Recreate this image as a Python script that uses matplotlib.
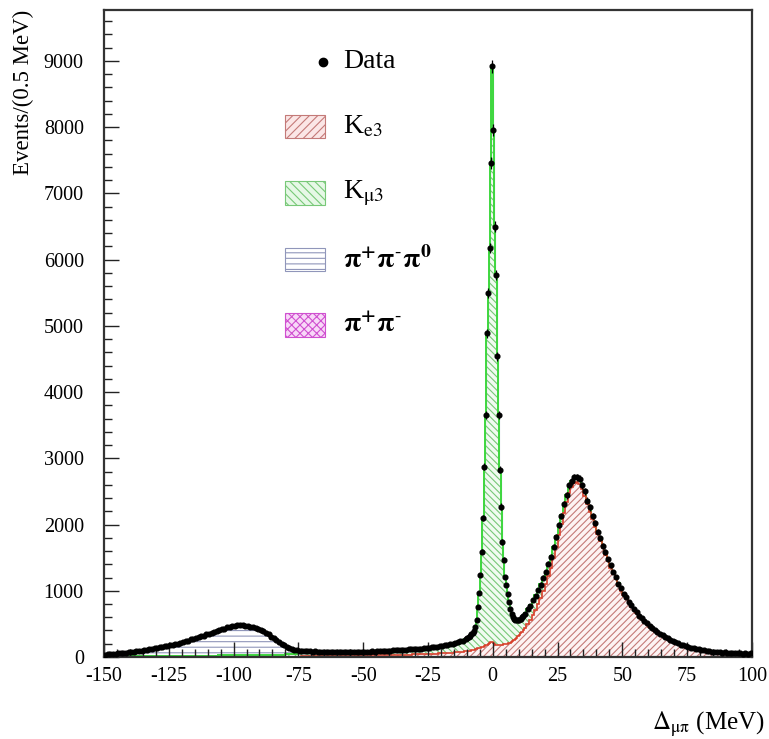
import numpy as np
import matplotlib
matplotlib.use('Agg')
import matplotlib.pyplot as plt
from matplotlib.patches import Rectangle
from matplotlib.ticker import MultipleLocator

plt.rcParams['font.family'] = 'serif'
plt.rcParams['font.serif'] = ['Liberation Serif', 'DejaVu Serif']
plt.rcParams['mathtext.fontset'] = 'stix'
plt.rcParams['hatch.linewidth'] = 0.8
plt.rcParams['axes.unicode_minus'] = False

# ── Binning: 1 MeV outside the K_mu3 peak, 0.5 MeV around it ─────────────────
edges = np.concatenate([np.arange(-150, -10, 1.0),
                        np.arange(-10, 12, 0.5),
                        np.arange(12, 100.5, 1.0)])
centers = 0.5 * (edges[:-1] + edges[1:])

# ── Data (events / bin), three segments ──────────────────────────────────────
data_a = [32, 38, 40, 46, 49, 55, 57, 63, 66, 73,
          75, 82, 85, 92, 95, 103, 106, 116, 119, 130,
          133, 144, 148, 160, 164, 178, 182, 196, 202, 218,
          223, 241, 247, 265, 272, 291, 297, 317, 323, 343,
          349, 368, 375, 395, 402, 421, 427, 446, 451, 468,
          471, 484, 479, 484, 472, 474, 458, 456, 436, 429,
          404, 392, 361, 344, 308, 288, 252, 232, 198, 181,
          153, 141, 119, 112, 99, 97, 88, 89, 83, 85,
          80, 83, 78, 82, 77, 81, 76, 80, 75, 79,
          74, 78, 74, 77, 73, 77, 74, 78, 75, 79,
          76, 81, 78, 84, 82, 88, 86, 92, 90, 96,
          94, 100, 98, 104, 103, 109, 108, 115, 114, 121,
          120, 127, 127, 135, 135, 143, 144, 153, 155, 165,
          168, 179, 183, 195, 200, 214, 221, 238, 248, 268]
data_b = [285, 300, 318, 340, 365, 395, 450, 560, 760, 970,
          1240, 1590, 2100, 2870, 3660, 4890, 5500, 6180, 7460, 8920,
          7960, 6500, 5770, 4540, 3660, 2830, 2270, 1740, 1470, 1210,
          1090, 950, 830, 720, 650, 600, 575, 560, 555, 558,
          565, 580, 600, 625]
data_c = [655, 726, 775, 856, 925, 1016, 1094, 1197, 1284, 1407,
          1512, 1668, 1812, 1989, 2131, 2309, 2442, 2590, 2652, 2718,
          2712, 2689, 2592, 2499, 2362, 2258, 2122, 2018, 1893, 1797,
          1674, 1586, 1474, 1386, 1284, 1206, 1104, 1036, 955, 905,
          835, 785, 726, 684, 626, 594, 546, 514, 472, 443,
          407, 383, 347, 328, 297, 281, 255, 243, 220, 208,
          188, 178, 161, 153, 138, 132, 119, 115, 104, 101,
          91, 90, 81, 81, 73, 74, 67, 68, 62, 64,
          58, 60, 55, 57, 52, 55, 50, 53]

# ── MC: K_e3 ─────────────────────────────────────────────────────────────────
ke3_a = [0] * 70 + [
    2, 3, 4, 5, 6, 7, 8, 9, 10, 11,
    12, 13, 14, 15, 16, 16, 17, 18, 19, 19,
    20, 20, 21, 21, 21, 22, 22, 22, 23, 23,
    23, 24, 24, 25, 25, 26, 26, 27, 27, 28,
    29, 30, 31, 32, 33, 34, 35, 36, 37, 38,
    39, 40, 42, 43, 45, 46, 48, 50, 52, 54,
    56, 58, 61, 63, 66, 69, 72, 76, 80, 85]
ke3_b = [88, 92, 96, 100, 105, 110, 116, 122, 128, 135,
         142, 150, 158, 167, 176, 186, 198, 212, 226, 232,
         215, 195, 182, 178, 178, 180, 183, 186, 190, 194,
         198, 203, 208, 215, 225, 238, 254, 272, 292, 313,
         335, 358, 382, 406]
ke3_c = [438, 498, 560, 632, 715, 800, 895, 992, 1100, 1218,
         1348, 1498, 1668, 1838, 2008, 2178, 2337, 2476, 2564, 2622,
         2639, 2605, 2531, 2426, 2311, 2195, 2079, 1962, 1855, 1748,
         1640, 1542, 1444, 1346, 1258, 1170, 1081, 1002, 933, 874,
         815, 756, 707, 658, 609, 570, 531, 492, 458, 424,
         395, 365, 336, 311, 287, 265, 246, 228, 211, 195,
         180, 166, 153, 142, 131, 121, 113, 105, 98, 92,
         86, 81, 76, 73, 69, 66, 63, 61, 59, 57,
         55, 53, 52, 51, 50, 49, 48, 47]

# ── MC: K_mu3 ────────────────────────────────────────────────────────────────
kmu3_a = [8, 8, 9, 9, 9, 10, 10, 10, 11, 11,
          11, 12, 12, 12, 13, 13, 13, 14, 14, 14,
          15, 15, 15, 16, 16, 16, 17, 17, 17, 18,
          18, 18, 19, 19, 19, 20, 20, 20, 21, 21,
          21, 22, 22, 22, 23, 23, 23, 24, 24, 24,
          25, 25, 25, 26, 26, 26, 27, 27, 27, 28,
          28, 29, 29, 30, 30, 31, 32, 33, 34, 35,
          36, 38, 40, 42, 44, 46, 48, 50, 51, 52,
          53, 53, 54, 54, 54, 55, 55, 55, 55, 55,
          55, 55, 55, 55, 55, 55, 55, 55, 56, 56,
          57, 57, 58, 59, 60, 61, 62, 63, 64, 65,
          66, 67, 68, 69, 71, 72, 74, 76, 78, 80,
          82, 84, 86, 89, 92, 95, 98, 101, 105, 109,
          114, 119, 124, 130, 136, 143, 151, 160, 170, 181]
kmu3_b = [197, 208, 222, 240, 260, 285, 334, 438, 632, 835,
          1098, 1440, 1942, 2703, 3484, 4704, 5302, 5968, 7234, 8688,
          7745, 6305, 5588, 4362, 3482, 2650, 2087, 1554, 1280, 1016,
          892, 747, 622, 505, 425, 362, 321, 288, 263, 245,
          230, 222, 218, 219]
kmu3_c = [222, 222, 220, 218, 215, 210, 205, 198, 190, 182,
          172, 162, 152, 142, 132, 122, 113, 104, 96, 88,
          81, 75, 69, 64, 59, 55, 51, 48, 45, 42,
          40, 38, 36, 34, 32, 30, 29, 28, 27, 26,
          25, 24, 23, 22, 21, 20, 19, 18, 17, 16,
          15, 15, 14, 14, 13, 13, 12, 12, 11, 11,
          10, 10, 10, 9, 9, 9, 8, 8, 8, 7,
          7, 7, 7, 6, 6, 6, 6, 5, 5, 5,
          5, 5, 5, 4, 4, 4, 4, 4]

# ── MC: pi+ pi- pi0 ──────────────────────────────────────────────────────────
pi3_a = [24, 28, 32, 35, 41, 43, 48, 52, 57, 61,
         65, 68, 74, 78, 83, 89, 95, 100, 107, 114,
         120, 127, 135, 142, 150, 159, 167, 177, 187, 197,
         208, 220, 231, 243, 256, 268, 280, 294, 305, 319,
         331, 343, 356, 370, 382, 395, 407, 418, 431, 441,
         449, 455, 457, 454, 450, 444, 435, 425, 413, 397,
         380, 359, 336, 310, 282, 253, 224, 195, 168, 143,
         118, 97, 78, 63, 51, 42, 34, 28, 24, 20,
         17, 15, 12, 10, 9, 8, 6, 5, 3, 3] + [0] * 50
pi3_b = [0] * 44
pi3_c = [0] * 88

# ── MC: pi+ pi- (negligible here) ────────────────────────────────────────────
pipi_a = [0] * 140
pipi_b = [0] * 44
pipi_c = [0] * 88

data = np.array(data_a + data_b + data_c, dtype=float)
ke3 = np.array(ke3_a + ke3_b + ke3_c, dtype=float)
kmu3 = np.array(kmu3_a + kmu3_b + kmu3_c, dtype=float)
pi3 = np.array(pi3_a + pi3_b + pi3_c, dtype=float)
pipi = np.array(pipi_a + pipi_b + pipi_c, dtype=float)

s1 = ke3
s2 = s1 + kmu3
s3 = s2 + pi3
s4 = s3 + pipi

RED, RED_H = '#d8402c', '#c47a78'
GRN, GRN_H = '#3ed83e', '#78c878'
BLU_H = '#9096ba'
MAG_H = '#d050d0'

fig = plt.figure(figsize=(7.69, 7.39), dpi=100)
ax = fig.add_axes([0.1352, 0.111, 0.8426, 0.8755])

# stacked MC, hatched
ax.stairs(s4, edges, baseline=s3, fill=True, facecolor='none', edgecolor=MAG_H,
          hatch='xxxx', linewidth=0)
ax.stairs(s3, edges, baseline=s2, fill=True, facecolor='none', edgecolor=BLU_H,
          hatch='---', linewidth=0)
ax.stairs(s2, edges, baseline=s1, fill=True, facecolor='#f1fbf1', edgecolor=GRN_H,
          hatch='\\\\\\\\\\', linewidth=0)
ax.stairs(s1, edges, baseline=0, fill=True, facecolor='#fdf3f3', edgecolor=RED_H,
          hatch='/////', linewidth=0)
ax.stairs(s3, edges, baseline=None, color=BLU_H, linewidth=0.8)
ax.stairs(s2, edges, baseline=None, color=GRN, linewidth=1.4)
ax.stairs(s1, edges, baseline=None, color=RED, linewidth=1.2)

# data
ax.errorbar(centers, data, yerr=np.sqrt(data), fmt='o', ms=3.4, color='black',
            elinewidth=0.9, capsize=0, zorder=5)

ax.set_xlim(-150, 100)
ax.set_ylim(0, 9770)
ax.xaxis.set_major_locator(MultipleLocator(25))
ax.xaxis.set_minor_locator(MultipleLocator(5))
ax.yaxis.set_major_locator(MultipleLocator(1000))
ax.yaxis.set_minor_locator(MultipleLocator(200))
ax.tick_params(which='both', direction='in', top=False, right=False,
               labelsize=14.5, width=1.0, color='#222222')
ax.tick_params(which='major', length=11)
ax.tick_params(which='minor', length=6)
ax.tick_params(axis='x', which='major', pad=7)
ax.tick_params(axis='y', which='major', pad=14.5)
for sp in ax.spines.values():
    sp.set_linewidth(1.6)
    sp.set_color('#333333')

ax.set_ylabel('Events/(0.5 MeV)', fontsize=16.5, loc='top')
ax.yaxis.set_label_coords(-0.108, 1.0)
ax.set_xlabel(r'$\Delta_{\mathrm{\mu\pi}}$ (MeV)', fontsize=18, loc='right')
ax.xaxis.set_label_coords(1.02, -0.082)

# legend drawn by hand to match the layout
hx, hw, hh = 0.279, 0.062, 0.036
tx = 0.369
ax.plot([0.338], [0.920], 'o', color='black', ms=6, transform=ax.transAxes)
ax.text(tx, 0.920, 'Data', transform=ax.transAxes, fontsize=20, va='center')
rows = [(0.820, r'K$_{\mathrm{e3}}$', '#fbe6e6', RED_H, '////'),
        (0.717, r'K$_{\mathrm{\mu3}}$', '#e6f8e6', GRN_H, '\\\\\\\\'),
        (0.614, r'$\mathbf{\pi^{+}\pi^{\text{-}}\pi^{0}}$', 'white', BLU_H, '---'),
        (0.513, r'$\mathbf{\pi^{+}\pi^{\text{-}}}$', '#f8d8f8', MAG_H, 'xxxx')]
for yc, lab, fc, hc, hat in rows:
    ax.add_patch(Rectangle((hx, yc - hh / 2), hw, hh, transform=ax.transAxes,
                           facecolor=fc, edgecolor='none'))
    ax.add_patch(Rectangle((hx, yc - hh / 2), hw, hh, transform=ax.transAxes,
                           facecolor='none', edgecolor=hc, hatch=hat, linewidth=0.8))
    ax.text(tx, yc, lab, transform=ax.transAxes, fontsize=20, va='center')

fig.savefig('out.png', dpi=100)
